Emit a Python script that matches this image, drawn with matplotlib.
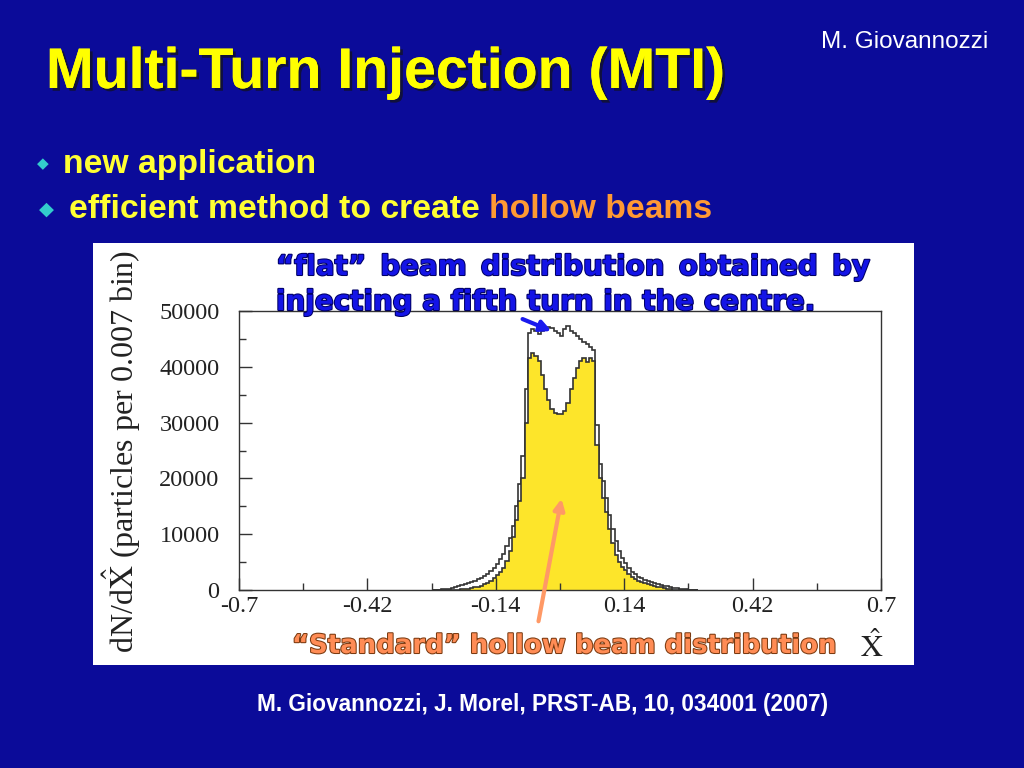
import matplotlib
matplotlib.use("Agg")
import matplotlib.pyplot as plt
import matplotlib.patheffects as pe
from matplotlib.patches import Rectangle, FancyArrowPatch
import numpy as np

plt.rcParams['mathtext.fontset'] = 'stix'

# histogram data, bins of 0.007 from -0.280 to 0.301
bin_width = 0.007
first_edge = -40

standard_left = [0, 0, 0, 0, 5, 15, 30, 50, 80, 120, 180, 250, 350, 450, 600,
                 800, 1000, 1300, 1600, 2100, 2600, 3200, 4000, 5200, 7000,
                 9500, 12500, 16000, 20000, 30000]
standard_core = [41500, 42500, 42000, 41000, 38500, 36000, 34000, 32500, 31700,
                 31500, 31600, 32000, 33500, 36000, 38000, 39800, 41000, 41500,
                 40800, 41500, 41000]
standard_right = [26000, 20000, 16500, 14000, 11000, 8500, 6300, 5000, 4200,
                  3500, 2900, 2400, 2000, 1700, 1500, 1300, 1100, 900, 750,
                  600, 480, 300, 200, 120, 70, 40, 20, 10, 0, 0, 0, 0]

flat_left = [10, 30, 60, 100, 170, 260, 380, 500, 650, 850, 1000, 1200, 1400,
             1650, 1900, 2200, 2500, 2900, 3400, 4000, 4700, 5500, 6500, 7800,
             9300, 11500, 15000, 19000, 24000, 36000]
flat_core = [46000, 46800, 46500, 45800, 46500, 46900, 47200, 47000, 46400,
             46000, 45500, 46800, 47300, 46500, 46000, 45500, 45000, 44500,
             44000, 43500, 43000]
flat_right = [29500, 22500, 19500, 16500, 13500, 11000, 8800, 7000, 5800, 4800,
              4000, 3200, 2800, 2400, 2100, 1800, 1600, 1400, 1250, 1100, 950,
              800, 650, 520, 400, 300, 220, 150, 100, 60, 30, 10]

x_ticks = [-0.7, -0.42, -0.14, 0.14, 0.42, 0.7]
x_tick_labels = ['-0.7', '-0.42', '-0.14', '0.14', '0.42', '0.7']
y_ticks = [0, 10000, 20000, 30000, 40000, 50000]

standard = np.array(standard_left + standard_core + standard_right)
flat = np.array(flat_left + flat_core + flat_right)
edges = (np.arange(len(standard) + 1) + first_edge) * bin_width

W, H = 1024, 768
BG = '#0b0b99'


def fx(px):
    return px / W


def fy(py):
    return 1 - py / H


fig = plt.figure(figsize=(10.24, 7.68), dpi=100, facecolor=BG)

# white panel holding the plot
fig.patches.append(Rectangle((fx(93), fy(665)), (914 - 93) / W, (665 - 243) / H,
                             transform=fig.transFigure, facecolor='white',
                             edgecolor='none', zorder=-5))

ax = fig.add_axes([fx(239), fy(590), (881 - 239) / W, (590 - 311) / H])
ax.set_facecolor('white')
ax.stairs(flat, edges, fill=False, color='#333333', lw=1.2, baseline=0)
ax.stairs(standard, edges, fill=True, facecolor='#fde52a', edgecolor='none')
ax.stairs(standard, edges, fill=False, color='#333333', lw=1.2, baseline=0)
ax.set_xlim(-0.7, 0.7)
ax.set_ylim(0, 50000)
ax.set_xticks(x_ticks)
ax.set_xticklabels(x_tick_labels)
ax.set_xticks([-0.56, -0.28, 0, 0.28, 0.56], minor=True)
ax.set_yticks(y_ticks)
ax.set_yticks(np.arange(5000, 50000, 10000), minor=True)
ax.tick_params(which='both', direction='in', color='#333333', width=1,
               labelsize=17.5, labelcolor='#222222')
ax.tick_params(axis='y', pad=14)
ax.tick_params(axis='x', pad=4)
ax.tick_params(which='major', length=9)
ax.tick_params(which='minor', length=5)
for lab in ax.get_xticklabels() + ax.get_yticklabels():
    lab.set_family('Liberation Serif')
for s in ax.spines.values():
    s.set_color('#333333')
    s.set_linewidth(1)

fig.text(fx(122), fy(451), r'dN/d$\hat{\mathrm{X}}$ (particles per 0.007 bin)',
         rotation=90, ha='center', va='center', fontsize=23,
         family='Liberation Serif', color='#222222')
fig.text(fx(872), fy(647), r'$\hat{\mathrm{X}}$', ha='center', va='center',
         fontsize=22, color='#222222')

# title and header
shadow = [pe.withSimplePatchShadow(offset=(2, -2), shadow_rgbFace='#111133', alpha=0.9),
          pe.Normal()]
fig.text(fx(46), fy(88), 'Multi-Turn Injection (MTI)', fontsize=41.2,
         weight='bold', color='#ffff00', family='Liberation Sans',
         ha='left', va='baseline', path_effects=shadow)
fig.text(fx(988), fy(48), 'M. Giovannozzi', fontsize=17.5, color='white',
         family='Liberation Sans', ha='right', va='baseline')

# bullets
fig.text(fx(43), fy(164), '\u25c6', fontsize=11, color='#33cccc',
         ha='center', va='center', family='DejaVu Sans')
fig.text(fx(46), fy(209), '\u25c6', fontsize=14, color='#33cccc',
         ha='center', va='center', family='DejaVu Sans')
fig.text(fx(63), fy(173), 'new application', fontsize=24.3, weight='bold',
         color='#ffff33', family='Liberation Sans', va='baseline')
t1 = fig.text(fx(69), fy(218), 'efficient method to create ', fontsize=24.3,
              weight='bold', color='#ffff33', family='Liberation Sans',
              va='baseline')
renderer = fig.canvas.get_renderer()
bb = t1.get_window_extent(renderer)
fig.text(bb.x1 / W, fy(218), 'hollow beams', fontsize=24.3, weight='bold',
         color='#ff9933', family='Liberation Sans', va='baseline')

# blue annotation, first line justified
note_fx = dict(fontsize=20, weight='bold', color='#1414e6', family='DejaVu Sans',
               va='baseline',
               path_effects=[pe.withStroke(linewidth=1.5, foreground='#000066')])
words = ['\u201cflat\u201d', 'beam', 'distribution', 'obtained', 'by']
tmp = [fig.text(0, 0, w, **note_fx) for w in words]
widths = [t.get_window_extent(renderer).width for t in tmp]
for t in tmp:
    t.remove()
left, right = 276, 870
gap = (right - left - sum(widths)) / (len(words) - 1)
xpos = left
for w, wd in zip(words, widths):
    fig.text(fx(xpos), fy(275), w, **note_fx)
    xpos += wd + gap
fig.text(fx(276), fy(310), 'injecting a fifth turn in the centre.', **note_fx)

orange_fx = dict(fontsize=18.7, weight='bold', color='#ff8c55', family='DejaVu Sans',
                 va='baseline',
                 path_effects=[pe.withStroke(linewidth=1.5, foreground='#7a3a10')])
fig.text(fx(292), fy(653), '\u201cStandard\u201d hollow beam distribution', **orange_fx)

# arrows
fig.patches.append(FancyArrowPatch((fx(520), fy(318)), (fx(554), fy(332)),
                                   transform=fig.transFigure, arrowstyle='-|>',
                                   mutation_scale=16, color='#1a1aee', lw=3,
                                   zorder=5))
fig.patches.append(FancyArrowPatch((fx(538), fy(624)), (fx(562), fy(496)),
                                   transform=fig.transFigure, arrowstyle='-|>',
                                   mutation_scale=16, color='#ff9966', lw=3,
                                   zorder=5))

fig.text(fx(543), fy(711), 'M. Giovannozzi, J. Morel, PRST-AB, 10, 034001 (2007)',
         fontsize=16.3, weight='bold', color='white', family='Liberation Sans',
         ha='center', va='baseline')

fig.savefig('out.png', dpi=100, facecolor=BG)
